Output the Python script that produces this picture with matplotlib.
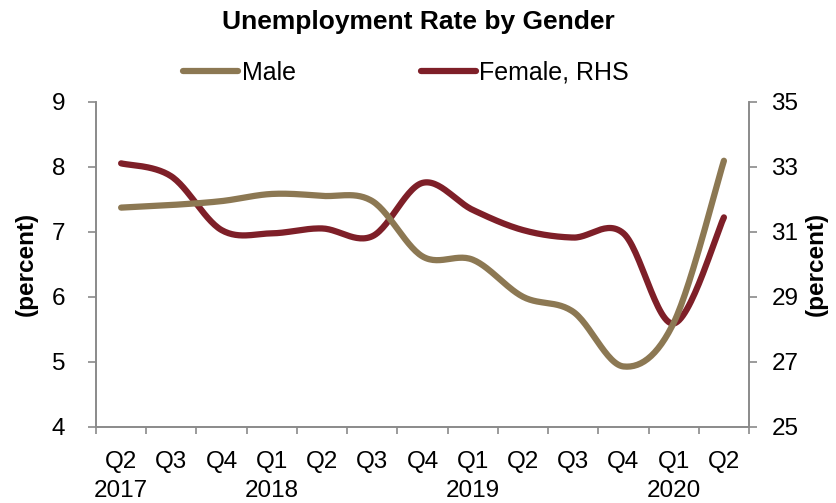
import numpy as np
import matplotlib.pyplot as plt

plt.rcParams['font.family'] = ['Liberation Sans', 'DejaVu Sans']

quarters = ['Q2\n2017', 'Q3', 'Q4', 'Q1\n2018', 'Q2', 'Q3', 'Q4',
            'Q1\n2019', 'Q2', 'Q3', 'Q4', 'Q1\n2020', 'Q2']
male = [7.37, 7.41, 7.47, 7.58, 7.55, 7.47, 6.62, 6.57, 6.0, 5.77, 4.93, 5.6, 8.09]
female = [33.1, 32.7, 31.05, 30.95, 31.1, 30.86, 32.5, 31.67, 31.05, 30.82, 30.95, 28.18, 31.44]

male_color = '#8C7853'
female_color = '#7E1F28'
axis_color = '#8a8a8a'


def smooth(vals, steps=30):
    # excel style smoothed line (catmull-rom through the points)
    p = np.array(vals, dtype=float)
    x = np.arange(len(p), dtype=float)
    pp = np.concatenate([[p[0]], p, [p[-1]]])
    xx = np.concatenate([[x[0]], x, [x[-1]]])
    xs, ys = [], []
    t = np.linspace(0, 1, steps)
    for i in range(len(p) - 1):
        x0, x1, x2, x3 = xx[i], xx[i + 1], xx[i + 2], xx[i + 3]
        y0, y1, y2, y3 = pp[i], pp[i + 1], pp[i + 2], pp[i + 3]
        cx1, cy1 = x1 + (x2 - x0) / 6, y1 + (y2 - y0) / 6
        cx2, cy2 = x2 - (x3 - x1) / 6, y2 - (y3 - y1) / 6
        b = [(1 - t) ** 3, 3 * (1 - t) ** 2 * t, 3 * (1 - t) * t ** 2, t ** 3]
        xs.append(b[0] * x1 + b[1] * cx1 + b[2] * cx2 + b[3] * x2)
        ys.append(b[0] * y1 + b[1] * cy1 + b[2] * cy2 + b[3] * y2)
    return np.concatenate(xs), np.concatenate(ys)


fig = plt.figure(figsize=(8.37, 5.03), dpi=100)
ax = fig.add_axes([0.1147, 0.1511, 0.7802, 0.6471])
ax2 = ax.twinx()

mx, my = smooth(male)
fx, fy = smooth(female)
l1, = ax.plot(mx, my, color=male_color, lw=4.5, solid_capstyle='round', label='Male')
l2, = ax2.plot(fx, fy, color=female_color, lw=4.5, solid_capstyle='round', label='Female, RHS')
ax.set_zorder(ax2.get_zorder() + 1)
ax.patch.set_visible(False)

ax.set_xlim(-0.5, len(quarters) - 0.5)
ax.set_ylim(4, 9)
ax2.set_ylim(25, 35)
ax.set_yticks(range(4, 10))
ax2.set_yticks(range(25, 36, 2))

ax.set_xticks(np.arange(-0.5, len(quarters), 1))
ax.set_xticklabels([])
ax.set_xticks(np.arange(len(quarters)), minor=True)
ax.set_xticklabels(quarters, minor=True, linespacing=1.42)
ax.tick_params(axis='x', which='minor', length=0, pad=17, labelsize=17.5)
ax.tick_params(axis='x', which='major', length=5, width=1.2, color=axis_color)
ax.tick_params(axis='y', length=6, width=1.2, color=axis_color, pad=16, labelsize=17.5)
ax2.tick_params(axis='y', length=6, width=1.2, color=axis_color, pad=10, labelsize=17.5)

for a in (ax, ax2):
    a.spines['top'].set_visible(False)
    for s in ('left', 'right', 'bottom'):
        a.spines[s].set_color(axis_color)
        a.spines[s].set_linewidth(1.2)

ax.set_ylabel('(percent)', fontsize=17.5, fontweight='bold', labelpad=10)
ax2.set_ylabel('(percent)', fontsize=17.5, fontweight='bold', labelpad=5)

fig.text(0.5, 0.956, 'Unemployment Rate by Gender', ha='center', va='center',
         fontsize=19, fontweight='bold')
fig.legend([l1, l2], ['Male', 'Female, RHS'], loc='center', bbox_to_anchor=(0.485, 0.855),
           ncol=2, frameon=False, fontsize=18, handlelength=2.2, handletextpad=0.15,
           columnspacing=5.0)

fig.savefig('out.png', dpi=100)
